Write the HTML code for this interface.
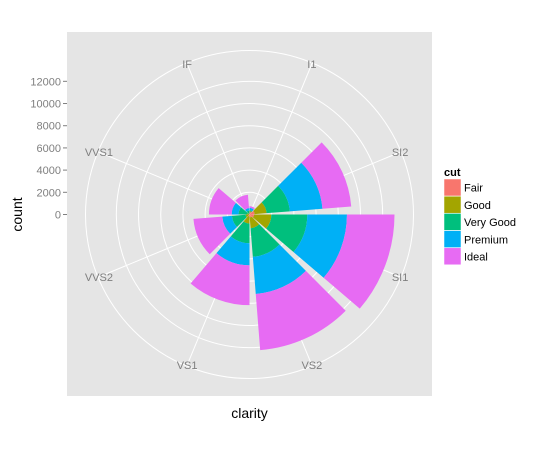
<!DOCTYPE html>
<html><head><meta charset="utf-8"><style>
body{margin:0;background:#fff;}
svg{display:block;font-family:"Liberation Sans",sans-serif;}
</style></head><body>
<svg id="c" width="550" height="450"></svg>
<script>
const categories=["I1","SI2","SI1","VS2","VS1","VVS2","VVS1","IF"];
const seriesNames=["Fair","Good","Very Good","Premium","Ideal"];
const fair=[210,466,408,261,170,69,17,9];
const good=[96,1081,1560,978,648,286,186,71];
const veryGood=[84,2100,3240,2591,1775,1235,789,268];
const premium=[205,2949,3575,3357,1989,870,616,230];
const ideal=[146,2598,4282,5071,3589,2606,2047,1212];
const yTicks=[0,2000,4000,6000,8000,10000,12000];
const colors=["#F8766D","#A3A500","#00BF7D","#00B0F6","#E76BF3"];
const series=[fair,good,veryGood,premium,ideal];

const NS="http://www.w3.org/2000/svg";
const svg=document.getElementById('c');
function mk(t,a,p){const e=document.createElementNS(NS,t);for(const k in a)e.setAttribute(k,a[k]);(p||svg).appendChild(e);return e;}
const px0=67,py0=32,pw=365,ph=364;
const cx=px0+pw/2,cy=py0+ph/2+0.5;
const totals=categories.map((_,i)=>series.reduce((s,a)=>s+a[i],0));
const maxT=Math.max(...totals);
const rScale=v=>v/maxT*145;
const n=categories.length;
const aScale=x=>x/n*2*Math.PI;
function pt(r,a){return [cx+r*Math.sin(a),cy-r*Math.cos(a)];}

const panel=mk('rect',{x:px0,y:py0,width:pw,height:ph,fill:'#E5E5E5'});


yTicks.forEach(v=>{const c=mk('circle',{cx:cx,cy:cy,r:rScale(v),fill:'none',stroke:'#fff','stroke-width':1});

});
const outerR=164;
const oc=mk('circle',{cx:cx,cy:cy,r:outerR,fill:'none',stroke:'#fff','stroke-width':1});


categories.forEach((c,i)=>{const a=aScale(i+0.5);const p=pt(outerR,a);
const l=mk('line',{x1:cx,y1:cy,x2:p[0],y2:p[1],stroke:'#fff','stroke-width':1});

});
categories.forEach((c,i)=>{let cum=0;series.forEach((s,j)=>{
const r0=rScale(cum),r1=rScale(cum+s[i]);cum+=s[i];
const a0=aScale(i),a1=aScale(i+0.9);
const p1=pt(r0,a0),p2=pt(r1,a0),p3=pt(r1,a1),p4=pt(r0,a1);
const d=`M${p1}L${p2}A${r1},${r1} 0 0 1 ${p3}L${p4}A${r0},${r0} 0 0 0 ${p1}Z`;
const e=mk('path',{d:d,fill:colors[j]});

});});
categories.forEach((c,i)=>{const a=aScale(i+0.5);const p=pt(outerR-1,a);
const t=mk('text',{x:p[0],y:p[1]+4,'text-anchor':'middle','font-size':11,fill:'#7F7F7F'});t.textContent=c;

});
yTicks.forEach(v=>{const y=cy-rScale(v);
const t=mk('text',{x:61,y:y+4,'text-anchor':'end','font-size':11,fill:'#7F7F7F'});t.textContent=v;


const l=mk('line',{x1:63,y1:y,x2:67,y2:y,stroke:'#7F7F7F'});

});
const yt=mk('text',{x:22,y:cy,'text-anchor':'middle','font-size':14,transform:`rotate(-90 22 ${cy})`,fill:'#000'});yt.textContent='count';


const xt=mk('text',{x:cx,y:418,'text-anchor':'middle','font-size':14,fill:'#000'});xt.textContent='clarity';


const lt=mk('text',{x:444,y:176,'font-size':11,'font-weight':'bold'});lt.textContent='cut';


seriesNames.forEach((s,j)=>{const y=179+j*17.2;
const r=mk('rect',{x:444,y:y,width:17,height:17,fill:colors[j],stroke:'#fff','stroke-width':0.5});


const t=mk('text',{x:464,y:y+12.7,'font-size':11});t.textContent=s;

});
</script>
</body></html>
